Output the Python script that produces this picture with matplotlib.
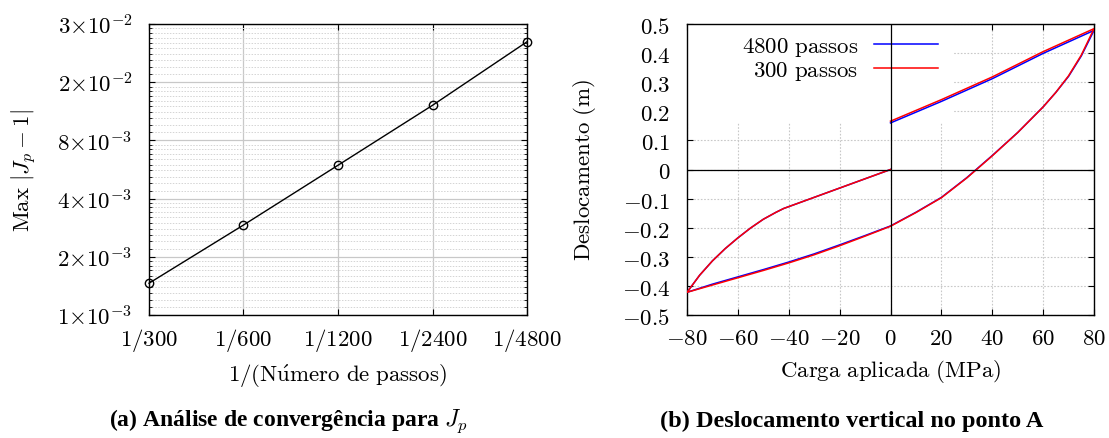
import numpy as np
import matplotlib
matplotlib.use("Agg")
import matplotlib.pyplot as plt
from matplotlib.ticker import FixedLocator, NullFormatter, NullLocator
from matplotlib.patches import Rectangle

plt.rcParams['mathtext.fontset'] = 'cm'
plt.rcParams['axes.unicode_minus'] = True

# ---------------- data: panel (a) ----------------
n_steps = [300, 600, 1200, 2400, 4800]
step_labels = ['1/300', '1/600', '1/1200', '1/2400', '1/4800']
max_err = [1.46e-3, 2.92e-3, 5.95e-3, 12.15e-3, 25.9e-3]
y_ticks_a = [1e-3, 2e-3, 4e-3, 8e-3, 16e-3, 32e-3]
y_tick_labels_a = [r'$1{\times}10^{-3}$', r'$2{\times}10^{-3}$', r'$4{\times}10^{-3}$',
                   r'$8{\times}10^{-3}$', r'$2{\times}10^{-2}$', r'$3{\times}10^{-2}$']

# ---------------- data: panel (b) ----------------
# path: 0 -> -80 (first loading), -80 -> 80 (lower branch), 80 -> 0 (unloading)
path_x = [0, -20, -42, -45, -50, -55, -60, -65, -70, -75, -80,
          -70, -60, -50, -40, -30, -20, -10, 0, 10, 20, 30, 40, 50, 60, 65, 70, 75, 80,
          60, 40, 20, 0]
disp_4800 = [0, -0.0638, -0.134, -0.147, -0.171, -0.201, -0.235, -0.272, -0.314, -0.363, -0.422,
             -0.394, -0.369, -0.344, -0.318, -0.290, -0.259, -0.227, -0.194, -0.147, -0.096, -0.028,
             0.048, 0.127, 0.215, 0.265, 0.320, 0.390, 0.478,
             0.399, 0.312, 0.234, 0.160]
disp_300 = [0, -0.0638, -0.134, -0.147, -0.171, -0.201, -0.235, -0.272, -0.314, -0.363, -0.422,
            -0.397, -0.372, -0.347, -0.321, -0.293, -0.262, -0.229, -0.195, -0.148, -0.097, -0.029,
            0.047, 0.127, 0.215, 0.265, 0.322, 0.393, 0.484,
            0.405, 0.318, 0.240, 0.166]
x_ticks_b = [-80, -60, -40, -20, 0, 20, 40, 60, 80]
y_ticks_b = [-0.5, -0.4, -0.3, -0.2, -0.1, 0, 0.1, 0.2, 0.3, 0.4, 0.5]

W, H = 1109, 439
fig = plt.figure(figsize=(W / 100, H / 100), dpi=100)

FS = 16.5
def ax_rect(x0, x1, y0, y1):
    return [x0 / W, 1 - y1 / H, (x1 - x0) / W, (y1 - y0) / H]

# ---------------- panel (a) ----------------
ax1 = fig.add_axes(ax_rect(149, 527, 25, 316))
ax1.set_xscale('log')
ax1.set_yscale('log')
ax1.plot(n_steps, max_err, color='black', lw=1.0, marker='o', ms=6,
         mfc='none', mec='black', mew=1.0, clip_on=False, zorder=5)
ax1.set_xlim(300, 4800)
ax1.set_ylim(1e-3, 32e-3)
ax1.xaxis.set_major_locator(FixedLocator(n_steps))
ax1.set_xticklabels(['$' + s + '$' for s in step_labels], fontsize=FS)
ax1.xaxis.set_minor_locator(NullLocator())
ax1.xaxis.set_minor_formatter(NullFormatter())
ax1.yaxis.set_major_locator(FixedLocator(y_ticks_a))
ax1.set_yticklabels(y_tick_labels_a, fontsize=FS)
minors = []
for b in y_ticks_a[:-1]:
    for k in range(1, 10):
        minors.append(b * (1 + k / 10))
ax1.yaxis.set_minor_locator(FixedLocator(minors))
ax1.yaxis.set_minor_formatter(NullFormatter())
ax1.grid(True, which='major', color='#c8c8c8', lw=0.9, ls='-')
ax1.grid(True, which='minor', axis='y', color='#d4d4d4', lw=0.7, ls=(0, (1.5, 1.5)))
ax1.set_axisbelow(True)
ax1.tick_params(which='both', direction='in', top=True, right=True)
ax1.tick_params(which='major', length=4, width=0.8)
ax1.tick_params(which='minor', length=2.5, width=0.6)
ax1.tick_params(axis='y', which='major', pad=12)
ax1.tick_params(axis='x', which='major', pad=8)
for s in ax1.spines.values():
    s.set_linewidth(1.0)
ax1.set_xlabel(r'$\mathrm{1/(N\acute{u}mero\ de\ passos)}$', fontsize=FS, labelpad=6)
ax1.set_ylabel(r'$\mathrm{Max}\ |J_p-1|$', fontsize=FS, labelpad=13)

# ---------------- panel (b) ----------------
ax2 = fig.add_axes(ax_rect(687, 1094, 25, 316))
ax2.plot(path_x, disp_4800, color='#0000ff', lw=1.1, label='4800 passos', zorder=3)
ax2.plot(path_x, disp_300, color='#ff0000', lw=1.1, label='300 passos', zorder=3)
ax2.set_xlim(-80, 80)
ax2.set_ylim(-0.5, 0.5)
ax2.xaxis.set_major_locator(FixedLocator(x_ticks_b))
ax2.set_xticklabels(['$%d$' % v for v in x_ticks_b], fontsize=FS)
ax2.yaxis.set_major_locator(FixedLocator(y_ticks_b))
ax2.set_yticklabels(['$0$' if abs(v) < 1e-9 else '$%.1f$' % v for v in y_ticks_b], fontsize=FS)
ax2.grid(True, color='#c8c8c8', lw=0.8, ls=(0, (1.5, 1.5)))
ax2.set_axisbelow(True)
# white key box (gnuplot style) hiding the grid behind the legend
ax2.add_patch(Rectangle((0.0, 0.66), 0.655, 0.34, transform=ax2.transAxes,
                        facecolor='white', edgecolor='none', zorder=1))
ax2.axhline(0, color='black', lw=0.9, zorder=6)
ax2.axvline(0, color='black', lw=0.9, zorder=6)
ax2.tick_params(which='both', direction='in', top=True, right=True, length=4, width=0.8)
ax2.tick_params(axis='y', pad=12)
ax2.tick_params(axis='x', pad=8)
for s in ax2.spines.values():
    s.set_linewidth(1.0)
ax2.set_xlabel(r'$\mathrm{Carga\ aplicada\ (MPa)}$', fontsize=FS, labelpad=6)
ax2.set_ylabel(r'$\mathrm{Deslocamento\ (m)}$', fontsize=FS, labelpad=17)
leg = ax2.legend(loc='upper right', bbox_to_anchor=(944 / W, 1 - 29 / H),
                 bbox_transform=fig.transFigure, markerfirst=False, frameon=False,
                 fontsize=FS, handlelength=2.8, handletextpad=0.7, labelspacing=0.02,
                 borderpad=0.25, borderaxespad=0)
for t in leg.get_texts():
    t.set_text('$\\mathrm{' + t.get_text().replace(' ', '\\ ') + '}$')
    t.set_ha('right')

# ---------------- captions ----------------
fig.text(288 / W, 1 - 421 / H, r'(a) Análise de convergência para $J_p$',
         ha='center', va='center', fontsize=17, fontweight='bold', family='Liberation Serif')
fig.text(852 / W, 1 - 421 / H, '(b) Deslocamento vertical no ponto A',
         ha='center', va='center', fontsize=17.5, fontweight='bold', family='Liberation Serif')

fig.savefig('out.png', dpi=100)
